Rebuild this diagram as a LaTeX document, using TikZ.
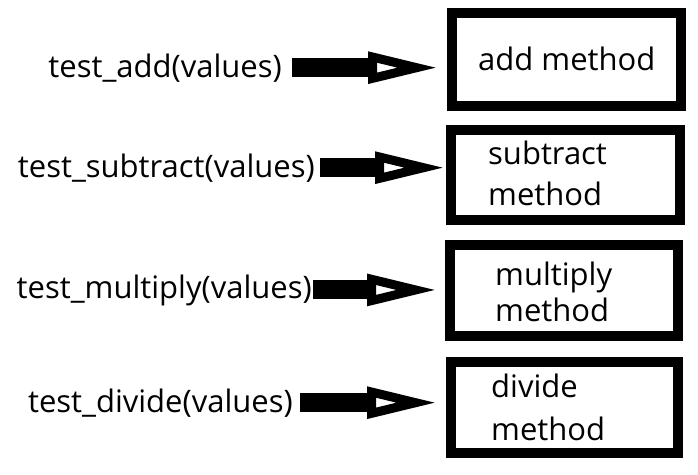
\documentclass[tikz,border=0pt]{standalone}
\usepackage{fontspec}
\setmainfont{Open Sans}
\usetikzlibrary{arrows.meta}
\begin{document}
\begin{tikzpicture}[x=1pt,y=-1pt,
  txt/.style={inner sep=0pt,font=\fontsize{31}{37}\selectfont},
  box/.style={draw,line width=10pt,inner sep=0pt,outer sep=0pt},
  shaft/.style={line width=19pt,-{Triangle[open,length=70pt,width=30pt,line width=9pt]}}]
\useasboundingbox (0,0) rectangle (698,474);
% boxes on the right
\node[box,minimum width=229pt,minimum height=93pt](addbox) at (566.5,59.5){};
\node[box,minimum width=229pt,minimum height=90pt](subbox) at (565.5,175){};
\node[box,minimum width=228pt,minimum height=91pt](mulbox) at (564,290.5){};
\node[box,minimum width=227pt,minimum height=91pt](divbox) at (564.5,407.5){};
\node[txt,anchor=base west](addtxt) at (478,70){add method};
\node[txt,anchor=base west](subtxt) at (488,164){subtract};
\node[txt,anchor=base west](subtxtb) at (488,205){method};
\node[txt,anchor=base west](multxt) at (495,285){multiply};
\node[txt,anchor=base west](multxtb) at (495,321){method};
\node[txt,anchor=base west](divtxt) at (491,397){divide};
\node[txt,anchor=base west](divtxtb) at (491,440){method};
% test calls on the left
\node[txt,anchor=base east](addlbl) at (282,77){test\_add(values)};
\node[txt,anchor=base east](sublbl) at (315,177){test\_subtract(values)};
\node[txt,anchor=base east](mullbl) at (312,298){test\_multiply(values)};
\node[txt,anchor=base east](divlbl) at (293,412){test\_divide(values)};
\foreach \n/\gs/\ge in {add/10/14,sub/5/6,mul/1/13,div/7/14}
  \draw[shaft,shorten <=\gs pt,shorten >=\ge pt](\n lbl.east)--(\n lbl.east -| \n box.west);
\end{tikzpicture}
\end{document}
